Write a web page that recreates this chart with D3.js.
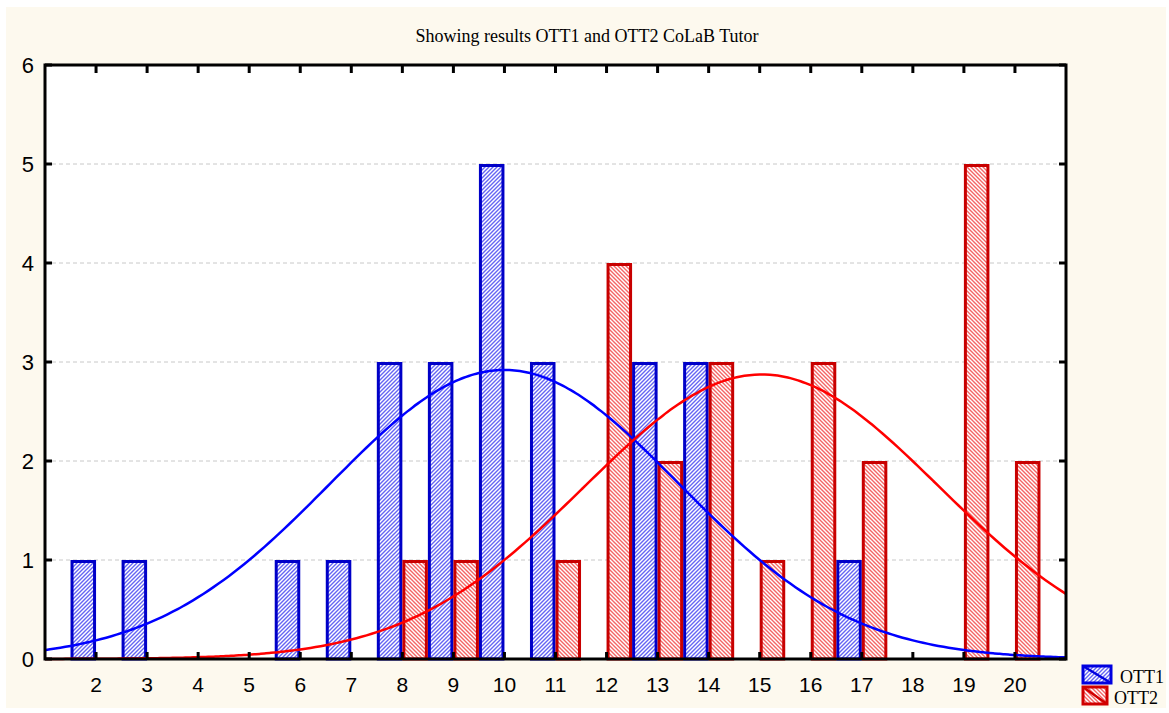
<!DOCTYPE html>
<html>
<head>
<meta charset="utf-8">
<script src="https://cdn.jsdelivr.net/npm/d3@7"></script>
<style>
  body { margin: 0; background: #fff; }
  svg { display: block; }
</style>
</head>
<body>
<div id="chart"></div>
<script>
// score values on x axis
const scores = [2, 3, 4, 5, 6, 7, 8, 9, 10, 11, 12, 13, 14, 15, 16, 17, 18, 19, 20];
// frequency per score
const ott1 = [1, 1, 0, 0, 1, 1, 3, 3, 5, 3, 0, 3, 3, 0, 0, 1, 0, 0, 0];
const ott2 = [0, 0, 0, 0, 0, 0, 1, 1, 0, 1, 4, 2, 3, 1, 3, 2, 0, 5, 2];
const yTicks = [0, 1, 2, 3, 4, 5, 6];
const seriesNames = ["OTT1", "OTT2"];
const title = "Showing results OTT1 and OTT2 CoLaB Tutor";

const W = 1169, H = 713;
const margin = {left: 45, right: 103, top: 65, bottom: 54};

const svg = d3.select("#chart").append("svg")
  .attr("width", W).attr("height", H);

const defs = svg.append("defs");
function hatch(id, color, dir){
  const p = defs.append("pattern")
    .attr("id", id)
    .attr("patternUnits", "userSpaceOnUse")
    .attr("width", 4).attr("height", 4);
  p.append("rect").attr("width", 4).attr("height", 4).attr("fill", "#fff");
  const d = dir > 0 ? "M-1,1 l2,-2 M0,4 l4,-4 M3,5 l2,-2" : "M-1,3 l2,2 M0,0 l4,4 M3,-1 l2,2";
  p.append("path").attr("d", d).attr("stroke", color).attr("stroke-width", 1.4);
}
hatch("hatchBlue", "#6565f3", 1);
hatch("hatchRed", "#f46565", -1);

// cream background
svg.append("rect")
  .attr("x", 6).attr("y", 7).attr("width", 1160).attr("height", 701)
  .attr("fill", "#fdf9ee");

const x = d3.scaleLinear().domain([1, 21]).range([margin.left, W - margin.right]);
const y = d3.scaleLinear().domain([0, 6]).range([H - margin.bottom, margin.top]);

// plot area
svg.append("rect")
  .attr("x", x(1)).attr("y", y(6))
  .attr("width", x(21) - x(1)).attr("height", y(0) - y(6))
  .attr("fill", "#fff");

// gridlines
svg.append("g")
  .selectAll("line")
  .data(yTicks.filter(d => d > 0 && d < 6))
  .join("line")
  .attr("x1", x(1)).attr("x2", x(21))
  .attr("y1", d => y(d)).attr("y2", d => y(d))
  .attr("stroke", "#c8c8c8")
  .attr("stroke-dasharray", "4,3");

// bars
const bw = x(1.5) - x(1);
const b1 = scores.map((s, i) => ({s, v: ott1[i]})).filter(d => d.v > 0);
const b2 = scores.map((s, i) => ({s, v: ott2[i]})).filter(d => d.v > 0);

svg.append("g").selectAll("rect")
  .data(b1)
  .join("rect")
  .attr("x", d => x(d.s - 0.5) + 1.5)
  .attr("y", d => y(d.v) + 1.5)
  .attr("width", bw - 3)
  .attr("height", d => y(0) - y(d.v) - 1.5)
  .attr("fill", "url(#hatchBlue)")
  .attr("stroke", "#0000c8")
  .attr("stroke-width", 3);

svg.append("g").selectAll("rect")
  .data(b2)
  .join("rect")
  .attr("x", d => x(d.s) + 1.5)
  .attr("y", d => y(d.v) + 1.5)
  .attr("width", bw - 3)
  .attr("height", d => y(0) - y(d.v) - 1.5)
  .attr("fill", "url(#hatchRed)")
  .attr("stroke", "#c80000")
  .attr("stroke-width", 3);

// fitted normal curves from the data
function fit(counts){
  const n = d3.sum(counts);
  const mean = d3.sum(counts, (c, i) => c * scores[i]) / n;
  const v = d3.sum(counts, (c, i) => c * (scores[i] - mean) ** 2) / (n - 1);
  const sd = Math.sqrt(v);
  return d3.range(1, 21.001, 0.1).map(t =>
    [t, n / (sd * Math.sqrt(2 * Math.PI)) * Math.exp(-0.5 * ((t - mean) / sd) ** 2)]);
}
const line = d3.line().x(d => x(d[0])).y(d => y(d[1])).curve(d3.curveBasis);

svg.append("path").datum(fit(ott1))
  .attr("d", line).attr("fill", "none")
  .attr("stroke", "#0000ff").attr("stroke-width", 2.5);
svg.append("path").datum(fit(ott2))
  .attr("d", line).attr("fill", "none")
  .attr("stroke", "#ff0000").attr("stroke-width", 2.5);

// frame and ticks
const frame = svg.append("g").attr("stroke", "#000");
frame.append("rect")
  .attr("x", x(1)).attr("y", y(6))
  .attr("width", x(21) - x(1)).attr("height", y(0) - y(6))
  .attr("fill", "none").attr("stroke-width", 3);

frame.selectAll(".tb").data(scores).join("line")
  .attr("x1", d => x(d)).attr("x2", d => x(d))
  .attr("y1", y(0)).attr("y2", y(0) - 7)
  .attr("stroke-width", 3);
frame.selectAll(".tt").data(scores).join("line")
  .attr("x1", d => x(d)).attr("x2", d => x(d))
  .attr("y1", y(6)).attr("y2", y(6) + 8)
  .attr("stroke-width", 3);
frame.selectAll(".tl").data(yTicks).join("line")
  .attr("x1", x(1)).attr("x2", x(1) + 7)
  .attr("y1", d => y(d)).attr("y2", d => y(d))
  .attr("stroke-width", 3);
frame.selectAll(".tr").data(yTicks).join("line")
  .attr("x1", x(21)).attr("x2", x(21) - 7)
  .attr("y1", d => y(d)).attr("y2", d => y(d))
  .attr("stroke-width", 3);

// tick labels
svg.append("g").selectAll("text").data(scores).join("text")
  .attr("x", d => x(d)).attr("y", y(0) + 33)
  .attr("text-anchor", "middle")
  .attr("font-family", "Liberation Sans, Arial, sans-serif")
  .attr("font-size", 21)
  .text(d => d);

svg.append("g").selectAll("text").data(yTicks).join("text")
  .attr("x", x(1) - 11).attr("y", d => y(d) + 8)
  .attr("text-anchor", "end")
  .attr("font-family", "Liberation Sans, Arial, sans-serif")
  .attr("font-size", 22)
  .text(d => d);

// title
svg.append("text")
  .attr("x", 587).attr("y", 42)
  .attr("text-anchor", "middle")
  .attr("font-family", "Liberation Serif, Times New Roman, serif")
  .attr("font-size", 18)
  .text(title);

// legend
const legend = svg.append("g");
const leg = [
  {name: seriesNames[0], fill: "url(#hatchBlue)", stroke: "#0000e0", x: 1083, y: 666, w: 28, tx: 1120},
  {name: seriesNames[1], fill: "url(#hatchRed)", stroke: "#d00000", x: 1083, y: 687, w: 24, tx: 1114}
];
leg.forEach(l => {
  legend.append("rect")
    .attr("x", l.x).attr("y", l.y).attr("width", l.w).attr("height", 17)
    .attr("fill", l.fill).attr("stroke", l.stroke).attr("stroke-width", 3);
  legend.append("line")
    .attr("x1", l.x).attr("y1", l.y).attr("x2", l.x + l.w).attr("y2", l.y + 17)
    .attr("stroke", l.stroke).attr("stroke-width", 2.5);
  legend.append("text")
    .attr("x", l.tx).attr("y", l.y + 17)
    .attr("font-family", "Liberation Serif, Times New Roman, serif")
    .attr("font-size", 18)
    .text(l.name);
});
</script>
</body>
</html>
